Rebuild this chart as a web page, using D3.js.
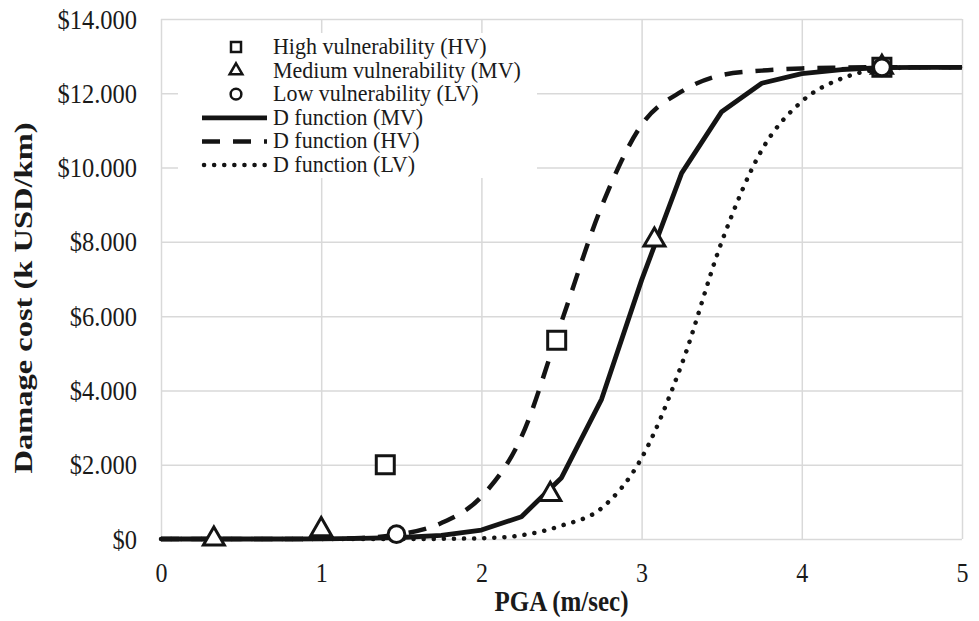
<!DOCTYPE html>
<html>
<head>
<meta charset="utf-8">
<script src="https://cdn.jsdelivr.net/npm/d3@7"></script>
<style>
  body { margin: 0; background: #fff; }
  text { font-family: "Liberation Serif", "Times New Roman", serif; fill: #1a1a1a; }
  .grid line { stroke: #d9d9d9; stroke-width: 1.5; }
</style>
</head>
<body>
<div id="chart"></div>
<script>
var svgWidth = 979;
var svgHeight = 621;

var margin = { top: 19, right: 17, bottom: 82, left: 161 };
var width = svgWidth - margin.left - margin.right;
var height = svgHeight - margin.top - margin.bottom;

// PGA values used by the three D function curves
var pga = [0, 0.25, 0.5, 0.75, 1, 1.25, 1.5, 1.75, 2, 2.25, 2.5, 2.75, 3, 3.25, 3.5, 3.75, 4, 4.25, 4.5, 4.75, 5];
var dMV = [0, 0, 0, 0, 5, 15, 40, 100, 240, 600, 1650, 3760, 6970, 9850, 11505, 12270, 12530, 12640, 12690, 12700, 12700];
var dHV = [0, 0, 0, 0, 5, 30, 130, 430, 1140, 2750, 5850, 8950, 11150, 12050, 12490, 12610, 12670, 12690, 12700, 12700, 12700];
var dLV = [0, 0, 0, 0, 0, 0, 0, 5, 20, 100, 360, 830, 2180, 4700, 8000, 10470, 11780, 12400, 12650, 12700, 12700];

// observed points
var hvX = [1.4, 2.47, 4.5];
var hvY = [2000, 5350, 12700];
var mvX = [0.33, 1.0, 2.43, 3.08, 4.5];
var mvY = [0, 250, 1200, 8050, 12700];
var lvX = [1.47, 4.5];
var lvY = [130, 12700];

var xTicks = [0, 1, 2, 3, 4, 5];
var yTicks = [0, 2000, 4000, 6000, 8000, 10000, 12000, 14000];
var yTickLabels = ["$0", "$2.000", "$4.000", "$6.000", "$8.000", "$10.000", "$12.000", "$14.000"];

var legendLabels = ["High vulnerability (HV)", "Medium vulnerability (MV)", "Low vulnerability (LV)",
  "D function (MV)", "D function (HV)", "D function (LV)"];

// text in the original is a bit taller than it is wide
var stretch = 1.15;

var svg = d3.select("#chart")
  .append("svg")
  .attr("width", svgWidth)
  .attr("height", svgHeight);

var chartGroup = svg.append("g")
  .attr("transform", `translate(${margin.left}, ${margin.top})`);

var xScale = d3.scaleLinear().domain([0, 5]).range([0, width]);
var yScale = d3.scaleLinear().domain([0, 14000]).range([height, 0]);

// gridlines
chartGroup.append("g")
  .attr("class", "grid")
  .call(d3.axisLeft(yScale).tickValues(yTicks).tickSize(-width).tickFormat(""))
  .call(g => g.select(".domain").remove());

chartGroup.append("g")
  .attr("class", "grid")
  .attr("transform", `translate(0, ${height})`)
  .call(d3.axisBottom(xScale).tickValues(xTicks).tickSize(height).tickFormat(""))
  .call(g => g.select(".domain").remove())
  .selectAll("line").attr("y2", -height);

// tick labels
chartGroup.append("g")
  .call(d3.axisLeft(yScale).tickValues(yTicks).tickSize(0).tickPadding(24)
    .tickFormat((d, i) => yTickLabels[i]))
  .call(g => g.select(".domain").remove())
  .selectAll("text")
  .attr("transform", `scale(1, ${stretch})`)
  .style("font-size", "24.5px")
  .style("font-family", "Liberation Serif")
  .attr("fill", "#1a1a1a");

chartGroup.append("g")
  .attr("transform", `translate(0, ${height})`)
  .call(d3.axisBottom(xScale).tickValues(xTicks).tickSize(0).tickPadding(20)
    .tickFormat(d3.format("d")))
  .call(g => g.select(".domain").remove())
  .selectAll("text")
  .attr("transform", `scale(1, ${stretch})`)
  .style("font-size", "24px")
  .style("font-family", "Liberation Serif")
  .attr("fill", "#1a1a1a");

// axis titles
svg.append("text")
  .attr("transform", `translate(${margin.left + width / 2}, 611) scale(1, ${stretch})`)
  .attr("text-anchor", "middle")
  .style("font-size", "25px")
  .style("font-weight", "bold")
  .text("PGA (m/sec)");

svg.append("text")
  .attr("transform", "translate(32, 298) rotate(-90) scale(1.3, 1)")
  .attr("text-anchor", "middle")
  .style("font-size", "25px")
  .style("font-weight", "bold")
  .text("Damage cost (k USD/km)");

// curves
function curveData(ys) {
  return pga.map((x, i) => [x, ys[i]]);
}

var lineLinear = d3.line()
  .x(d => xScale(d[0]))
  .y(d => yScale(d[1]));

var lineSmooth = d3.line()
  .curve(d3.curveMonotoneX)
  .x(d => xScale(d[0]))
  .y(d => yScale(d[1]));

var dotStyle = { w: 4.5, dash: "0.1,10", cap: "round" };
var dashStyle = { w: 4.5, dash: "18,13", cap: "butt" };
var solidStyle = { w: 4.8, dash: null, cap: "butt" };

chartGroup.append("path")
  .attr("d", lineSmooth(curveData(dLV)))
  .attr("fill", "none")
  .attr("stroke", "#141414")
  .attr("stroke-width", dotStyle.w)
  .attr("stroke-linecap", dotStyle.cap)
  .attr("stroke-dasharray", dotStyle.dash);

chartGroup.append("path")
  .attr("d", lineSmooth(curveData(dHV)))
  .attr("fill", "none")
  .attr("stroke", "#141414")
  .attr("stroke-width", dashStyle.w)
  .attr("stroke-dasharray", dashStyle.dash);

chartGroup.append("path")
  .attr("d", lineLinear(curveData(dMV)))
  .attr("fill", "none")
  .attr("stroke", "#141414")
  .attr("stroke-width", solidStyle.w)
  .attr("stroke-linejoin", "round");

// markers
var square = d3.symbol().type(d3.symbolSquare).size(324);
var triangle = d3.symbol().type(d3.symbolTriangle).size(190);
var circle = d3.symbol().type(d3.symbolCircle).size(220);

function drawMarkers(xs, ys, sym) {
  chartGroup.append("g")
    .selectAll("path")
    .data(xs.map((x, i) => [x, ys[i]]))
    .enter()
    .append("path")
    .attr("d", sym)
    .attr("transform", d => `translate(${xScale(d[0])}, ${yScale(d[1])})`)
    .attr("fill", "#fff")
    .attr("stroke", "#141414")
    .attr("stroke-width", 3);
}

drawMarkers(hvX, hvY, square);
drawMarkers(mvX, mvY, triangle);
drawMarkers(lvX, lvY, circle);

// legend
var legend = svg.append("g");
legend.append("rect")
  .attr("x", 178)
  .attr("y", 33)
  .attr("width", 359)
  .attr("height", 145)
  .attr("fill", "#fff");

var rowY = d => 47 + d * 23.6;
var legendSymbols = [
  d3.symbol().type(d3.symbolSquare).size(100)(),
  d3.symbol().type(d3.symbolTriangle).size(70)(),
  d3.symbol().type(d3.symbolCircle).size(90)()
];

legend.selectAll("path.mk")
  .data(legendSymbols)
  .enter()
  .append("path")
  .attr("class", "mk")
  .attr("d", d => d)
  .attr("transform", (d, i) => `translate(236, ${rowY(i)})`)
  .attr("fill", "#fff")
  .attr("stroke", "#141414")
  .attr("stroke-width", 2.5);

var legendLines = [solidStyle, dashStyle, dotStyle];
legend.selectAll("line.ln")
  .data(legendLines)
  .enter()
  .append("line")
  .attr("class", "ln")
  .attr("x1", d => d === dotStyle ? 204 : 202)
  .attr("x2", 267)
  .attr("y1", (d, i) => rowY(i + 3))
  .attr("y2", (d, i) => rowY(i + 3))
  .attr("stroke", "#141414")
  .attr("stroke-width", d => d.w)
  .attr("stroke-linecap", d => d.cap)
  .attr("stroke-dasharray", d => d.dash);

legend.selectAll("text.lbl")
  .data(legendLabels)
  .enter()
  .append("text")
  .attr("class", "lbl")
  .attr("transform", (d, i) => `translate(273, ${rowY(i) + 7}) scale(1, 1.08)`)
  .style("font-size", "22px")
  .text(d => d);
</script>
</body>
</html>
